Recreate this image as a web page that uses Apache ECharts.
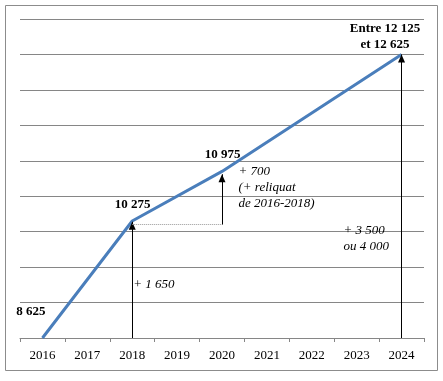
<!DOCTYPE html>
<html>
<head>
<meta charset="utf-8">
<script src="https://cdn.jsdelivr.net/npm/echarts@6/dist/echarts.min.js"></script>
<style>
html,body{margin:0;padding:0;background:#fff;}
#chart{width:443px;height:381px;}
</style>
</head>
<body>
<div id="chart"></div>
<script>
// ---- data ----
const years = ['2016', '2017', '2018', '2019', '2020', '2021', '2022', '2023', '2024'];
const pointYears = ['2016', '2018', '2020', '2024'];
const pointValues = [8625, 10275, 10975, 12625];
const range2024 = [12125, 12625];
const yMin = 8625, yMax = 13125, yStep = 500;
// arrows (year, from, to)
const arrowYears = ['2018', '2020', '2024'];
const arrowFrom = [8625, 10225, 8625];
const arrowTo = [10265, 10935, 12625];
// dotted connector
const dottedYears = ['2018', '2020'];
const dottedValue = 10225;
// increment annotations
const incrementTexts = ['+ 1 650', '+ 700\n(+ reliquat\nde 2016-2018)', '+ 3 500\nou 4 000'];

// ---- helpers ----
function fmt(v) { return String(v).replace(/\B(?=(\d{3})+(?!\d))/g, ' '); }

const serif = 'Liberation Serif';
const boldLabel = { show: true, position: 'inside', fontFamily: serif, fontWeight: 'bold', fontSize: 13, color: '#000', lineHeight: 16 };
const italLabel = { show: true, position: 'inside', fontFamily: serif, fontStyle: 'italic', fontSize: 13, color: '#000', lineHeight: 16, align: 'left', verticalAlign: 'middle' };

const valueLabelStyle = [
  { align: 'right', offset: [3, -26] },
  { align: 'center', offset: [0.5, -16] },
  { align: 'center', offset: [0.5, -16.5] },
  { align: 'center', offset: [-16.5, -17.5] }
];

const markPoints = pointYears.map((y, i) => {
  const text = i === pointYears.length - 1
    ? 'Entre ' + fmt(range2024[0]) + '\net ' + fmt(range2024[1])
    : fmt(pointValues[i]);
  return {
    coord: [y, pointValues[i]],
    label: Object.assign({}, boldLabel, valueLabelStyle[i], { formatter: text, verticalAlign: 'middle' })
  };
});
// increment labels anchored at data points
const incAnchors = [['2018', pointValues[0]], ['2020', pointValues[2]], ['2024', pointValues[0]]];
const incOffsets = [[1, -53.5], [16.5, 16.6], [-58, -99.5]];
incrementTexts.forEach((t, i) => {
  markPoints.push({
    coord: incAnchors[i],
    label: Object.assign({}, italLabel, { formatter: t, offset: incOffsets[i] })
  });
});

const markLines = arrowYears.map((y, i) => [
  { coord: [y, arrowFrom[i]], lineStyle: { color: '#000', width: 1, type: 'solid' } },
  { coord: [y, arrowTo[i]] }
]);
markLines.push([
  { coord: [dottedYears[0], dottedValue], symbol: 'none', lineStyle: { color: '#999', width: 1, type: 'dotted' } },
  { coord: [dottedYears[1], dottedValue], symbol: 'none' }
]);

const chart = echarts.init(document.getElementById('chart'), null, { renderer: 'canvas' });
chart.setOption({
  animation: false,
  backgroundColor: '#fff',
  grid: { left: 20, right: 19, top: 19, bottom: 43 },
  xAxis: {
    type: 'category',
    data: years,
    boundaryGap: true,
    axisLine: { lineStyle: { color: '#868686', width: 1 } },
    axisTick: { show: true, length: 4, alignWithLabel: false, lineStyle: { color: '#868686' } },
    axisLabel: { fontFamily: serif, fontSize: 13, color: '#000', margin: 11 }
  },
  yAxis: {
    type: 'value',
    min: yMin, max: yMax, interval: yStep,
    axisLine: { show: false },
    axisTick: { show: false },
    axisLabel: { show: false },
    splitLine: { lineStyle: { color: '#868686', width: 1 } }
  },
  graphic: [{
    type: 'rect',
    shape: { x: 5.5, y: 5.5, width: 432, height: 365 },
    style: { fill: 'none', stroke: '#8c8c8c', lineWidth: 1 },
    silent: true
  }],
  series: [{
    type: 'line',
    data: pointYears.map((y, i) => [y, pointValues[i]]),
    showSymbol: false,
    lineStyle: { color: '#4A7EBB', width: 3 },
    z: 3,
    markLine: {
      silent: true,
      symbol: ['none', 'triangle'],
      symbolSize: [7, 8],
      symbolOffset: [0, [0, 4]],
      label: { show: false },
      emphasis: { disabled: true },
      data: markLines
    },
    markPoint: {
      silent: true,
      symbol: 'circle',
      symbolSize: 1,
      itemStyle: { color: 'rgba(0,0,0,0)' },
      data: markPoints
    }
  }]
});
</script>
</body>
</html>
